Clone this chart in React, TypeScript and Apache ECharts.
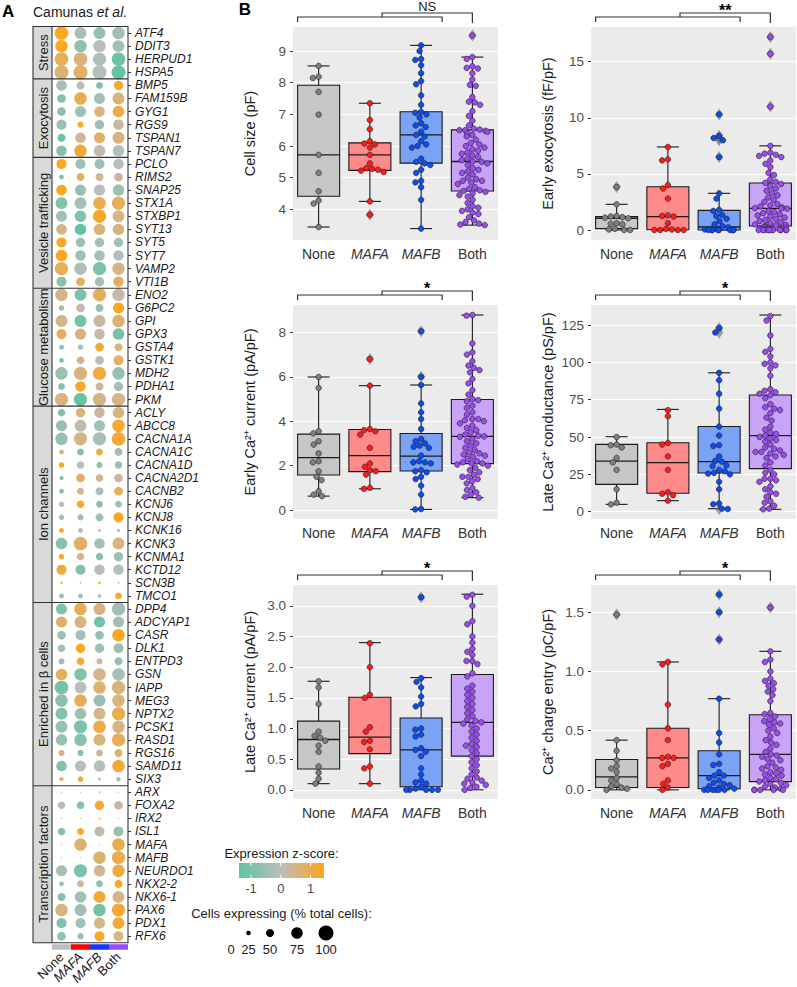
import React, { useEffect, useRef } from 'react';
import * as echarts from 'echarts';

const FONT = "'Liberation Sans', Arial, sans-serif";
const CONDITIONS = ['None', 'MAFA', 'MAFB', 'Both'];
const ITALIC = new Set(['MAFA', 'MAFB']);

// ---------- Panel A data ----------
const GROUP_NAMES = ['Stress', 'Exocytosis', 'Vesicle trafficking', 'Glucose metabolism', 'Ion channels', 'Enriched in β cells', 'Transcription factors'];
const GROUP_GENES = [
  ['ATF4', 'DDIT3', 'HERPUD1', 'HSPA5'],
  ['BMP5', 'FAM159B', 'GYG1', 'RGS9', 'TSPAN1', 'TSPAN7'],
  ['PCLO', 'RIMS2', 'SNAP25', 'STX1A', 'STXBP1', 'SYT13', 'SYT5', 'SYT7', 'VAMP2', 'VTI1B'],
  ['ENO2', 'G6PC2', 'GPI', 'GPX3', 'GSTA4', 'GSTK1', 'MDH2', 'PDHA1', 'PKM'],
  ['ACLY', 'ABCC8', 'CACNA1A', 'CACNA1C', 'CACNA1D', 'CACNA2D1', 'CACNB2', 'KCNJ6', 'KCNJ8', 'KCNK16', 'KCNK3', 'KCNMA1', 'KCTD12', 'SCN3B', 'TMCO1'],
  ['DPP4', 'ADCYAP1', 'CASR', 'DLK1', 'ENTPD3', 'GSN', 'IAPP', 'MEG3', 'NPTX2', 'PCSK1', 'RASD1', 'RGS16', 'SAMD11', 'SIX3'],
  ['ARX', 'FOXA2', 'IRX2', 'ISL1', 'MAFA', 'MAFB', 'NEURDO1', 'NKX2-2', 'NKX6-1', 'PAX6', 'PDX1', 'RFX6'],
];
const GENES = GROUP_GENES.flat();

// z-scores: None, MAFA, MAFB, Both
const Z_SCORES = [
  [1.4, -0.3, -0.6, -0.4], [1.4, -0.7, 0, -0.4], [0.9, 0.6, -0.2, -1.2], [0.7, 0.8, -0.1, -1.3],
  [-0.3, 0.2, -0.8, 1.3], [-0.9, 1.0, -0.4, 0.6], [-0.7, -0.4, 0.6, 1.1], [-0.5, 1.4, -0.5, 0.3], [-1.2, 0.4, 0.8, 0.6], [-0.8, 1.2, 0.2, -0.2],
  [1.4, -0.5, -0.5, -0.1], [-0.8, 0.8, 0.4, 0.3], [1.4, -0.5, 0, -0.5], [-0.9, -0.3, 1.0, 0.9], [-0.4, -0.9, 1.3, 0.5], [0.5, -1.4, 0.6, 0.6], [1.4, -0.5, -0.4, -0.4], [1.4, -0.4, -0.3, -0.1], [0.9, -0.2, -1.0, 0.5], [-0.8, 0.9, -0.4, 0.8],
  [0.5, -1.0, 0.9, 0.2], [-0.4, 0.1, -0.6, 1.4], [0.5, -1.1, 0.3, 0.7], [0.8, 0.6, 0.2, -1.1], [-0.6, -0.3, 1.2, 0.6], [-0.8, 0.5, -0.1, 0.8], [-0.5, 0.6, 1.1, -0.6], [-0.8, 1.3, 0.3, -0.3], [0.6, -1.3, 0.5, 0.5],
  [-0.9, 0.6, 0.3, 0.6], [-0.6, 0.1, -0.4, 1.3], [-0.6, 0.5, -0.3, 1.2], [0.6, -0.9, 1.1, -0.4], [1.4, 0, -0.6, -0.5], [-0.8, 0.8, 0.5, 0.3], [-0.8, 0.5, -0.3, 0.9], [0, 1.3, -0.7, -0.4], [-0.4, -0.4, -0.5, 1.4], [1.3, 0, -0.1, -0.6], [-0.8, 0.8, -0.4, 0.6], [1.3, 0.4, -0.8, -0.5], [1.2, -0.9, 0, -0.1], [1.2, -0.4, 1.2, -0.5], [-0.6, -0.4, 0, 1.4],
  [-0.9, 0.9, 0.6, -0.4], [0.8, 0.6, -1.1, -0.4], [-0.4, -0.4, -0.6, 1.4], [-0.4, 1.4, -0.5, -0.4], [-0.5, 1.3, 0.3, -0.6], [0.9, -0.9, 0.5, -0.3], [-1.1, 0, 0.7, 0.6], [-0.7, 0.9, -0.6, 0.6], [-0.9, -0.5, 0.5, 1.0], [-0.5, -1.0, 1.1, 0.5], [-0.5, -0.8, 0.6, 0.9], [0.5, -0.9, 0.3, 0.8], [-0.9, -0.1, -0.1, 1.2], [0.6, 1.2, -0.6, -0.4],
  [-0.3, -0.3, 1.3, 0.3], [0, -0.9, 1.2, 0.3], [0, 0, 1.3, 0], [-0.8, 1.4, 0.2, -0.5], [0, 0.7, 0, 1.0], [0, 0, 0.7, 1.0], [-0.3, -1.0, 0.4, 1.1], [-0.6, 0.4, -0.6, 1.4], [-0.9, -0.4, 1.2, 0.5], [0.6, -0.4, -1.1, 1.2], [-0.9, -0.4, 0.5, 1.2], [-0.6, -0.6, 1.3, 0.5],
];
// % cells expressing
const PCT_CELLS = [
  [90, 78, 78, 82], [82, 82, 82, 78], [90, 90, 87, 90], [93, 93, 93, 93],
  [68, 50, 42, 60], [55, 82, 72, 78], [55, 72, 68, 75], [65, 37, 60, 68], [50, 68, 72, 78], [68, 82, 75, 75],
  [65, 65, 65, 68], [27, 50, 50, 55], [68, 72, 72, 75], [78, 78, 82, 87], [72, 75, 87, 78], [68, 75, 75, 75], [65, 60, 60, 60], [75, 68, 68, 68], [87, 82, 87, 82], [65, 55, 60, 68],
  [82, 78, 87, 82], [32, 55, 50, 72], [78, 78, 78, 82], [65, 72, 68, 75], [28, 32, 55, 50], [28, 46, 55, 65], [82, 87, 87, 82], [42, 68, 50, 60], [87, 87, 87, 87],
  [46, 60, 68, 75], [72, 78, 72, 82], [82, 87, 87, 90], [28, 42, 42, 50], [32, 46, 37, 46], [24, 55, 46, 55], [28, 42, 50, 55], [32, 46, 42, 42], [32, 37, 50, 65], [28, 28, 14, 14], [75, 90, 68, 78], [32, 46, 46, 60], [65, 65, 68, 68], [10, 5, 12, 5], [28, 28, 20, 42],
  [72, 82, 78, 87], [72, 78, 72, 72], [55, 65, 55, 82], [46, 60, 60, 65], [37, 46, 37, 50], [75, 82, 82, 82], [90, 78, 82, 87], [82, 82, 78, 82], [78, 75, 78, 87], [78, 87, 82, 82], [75, 82, 78, 87], [37, 37, 42, 50], [68, 72, 75, 82], [24, 32, 12, 24],
  [2, 2, 5, 2], [46, 46, 60, 55], [2, 2, 5, 2], [46, 42, 65, 65], [2, 82, 2, 82], [2, 2, 82, 87], [72, 87, 75, 82], [27, 42, 42, 50], [50, 75, 78, 78], [82, 78, 82, 87], [65, 65, 72, 78], [55, 37, 65, 65],
];
const Z_LEGEND_TICKS = [-1, 0, 1];
const SIZE_LEGEND_VALUES = [0, 25, 50, 75, 100];
const Z_MIN = -1.4;
const Z_MAX = 1.45;

// ---------- Panel B data ----------
// box stats: [lower whisker, Q1, median, Q3, upper whisker] for None, MAFA, MAFB, Both
const CELL_SIZE_BOX = [[3.44, 4.41, 5.72, 7.92, 8.53], [4.25, 5.23, 5.72, 6.10, 7.35], [3.39, 5.46, 6.35, 7.08, 9.18], [3.5, 4.58, 5.51, 6.51, 8.81]];
const CELL_SIZE_POINTS = [
  [8.53, 8.19, 8.15, 7.71, 6.99, 5.72, 5.15, 4.57, 4.28, 4.18, 3.44],
  [7.35, 6.82, 6.53, 6.15, 6.08, 6.05, 5.95, 5.72, 5.45, 5.30, 5.28, 5.25, 5.22, 5.18, 4.25, 3.83],
  [9.18, 9.0, 8.75, 8.72, 8.55, 8.3, 8.05, 7.95, 7.6, 7.3, 7.08, 7.05, 7.0, 6.9, 6.72, 6.65, 6.6, 6.45, 6.35, 6.3, 6.15, 6.05, 6.0, 5.95, 5.6, 5.5, 5.45, 5.4, 5.25, 5.15, 4.9, 4.85, 4.7, 4.3, 3.39],
  [9.49, 8.81, 8.75, 8.52, 8.47, 8.45, 8.3, 8.1, 7.93, 7.9, 7.55, 7.4, 7.38, 7.3, 7.1, 6.95, 6.8, 6.65, 6.55, 6.52, 6.5, 6.5, 6.48, 6.45, 6.4, 6.35, 6.3, 6.2, 6.1, 6.05, 6.0, 5.95, 5.9, 5.85, 5.8, 5.75, 5.7, 5.65, 5.6, 5.55, 5.51, 5.5, 5.45, 5.4, 5.3, 5.25, 5.2, 5.15, 5.1, 5.0, 4.95, 4.9, 4.9, 4.85, 4.8, 4.7, 4.65, 4.6, 4.58, 4.55, 4.5, 4.45, 4.4, 4.3, 4.2, 4.1, 4.05, 4.0, 3.95, 3.9, 3.85, 3.75, 3.65, 3.6, 3.55, 3.52, 3.5],
];
const EXO_BOX = [[0, 0.12, 1.05, 1.19, 2.29], [0, 0.03, 1.19, 3.86, 7.4], [0, 0, 0.27, 1.75, 3.27], [0, 0.36, 1.93, 4.19, 7.5]];
const EXO_POINTS = [
  [3.83, 2.29, 1.25, 1.2, 1.15, 1.1, 1.05, 0.6, 0.55, 0.5, 0.1, 0.05, 0.0, 0.0],
  [7.4, 6.3, 6.2, 4.0, 3.7, 2.8, 1.3, 1.25, 1.2, 0.6, 0.1, 0.05, 0.0, 0.0, 0.0, 0.0],
  [10.3, 8.4, 8.2, 8.0, 6.5, 3.27, 2.8, 1.8, 1.7, 1.35, 1.25, 1.0, 0.8, 0.5, 0.35, 0.25, 0.1, 0.05, 0.05, 0, 0, 0, 0, 0, 0, 0, 0, 0],
  [17.2, 15.7, 11.0, 7.5, 6.9, 6.8, 6.7, 6.6, 6.5, 6.2, 5.9, 5.6, 5.1, 4.9, 4.5, 4.3, 4.2, 4.1, 3.9, 3.7, 3.5, 3.3, 3.1, 2.9, 2.7, 2.5, 2.3, 2.2, 2.1, 2.0, 1.95, 1.93, 1.9, 1.7, 1.6, 1.5, 1.4, 1.3, 1.2, 1.1, 1.0, 0.9, 0.8, 0.7, 0.6, 0.5, 0.45, 0.4, 0.35, 0.3, 0.25, 0.2, 0.15, 0.1, 0.1, 0.05, 0.05, 0, 0, 0, 0, 0, 0, 0, 0, 0, 0, 0],
];
const EARLY_CA_BOX = [[0.63, 1.58, 2.36, 3.42, 5.99], [0.96, 1.73, 2.45, 3.63, 5.6], [0.03, 1.76, 2.43, 3.45, 5.63], [0.56, 2.09, 3.32, 4.98, 8.78]];
const EARLY_CA_POINTS = [
  [5.99, 5.5, 3.55, 3.45, 3.1, 2.95, 2.55, 2.2, 2.15, 1.75, 1.5, 1.35, 0.85, 0.7, 0.63],
  [6.8, 5.6, 3.65, 3.6, 3.55, 3.4, 2.8, 2.1, 1.95, 1.8, 1.75, 1.6, 1.0, 0.96],
  [8.05, 6.0, 5.63, 4.8, 4.4, 4.1, 3.65, 3.2, 3.1, 3.0, 2.9, 2.85, 2.8, 2.45, 2.2, 2.15, 2.15, 2.1, 1.8, 1.75, 1.7, 1.5, 1.4, 1.1, 0.7, 0.05, 0.03],
  [8.78, 8.75, 7.5, 7.1, 7.0, 6.7, 6.5, 6.4, 6.3, 6.2, 5.9, 5.7, 5.4, 5.2, 5.0, 4.95, 4.9, 4.7, 4.6, 4.4, 4.3, 4.1, 4.1, 4.05, 4.0, 3.9, 3.8, 3.7, 3.6, 3.5, 3.4, 3.35, 3.32, 3.3, 3.2, 3.1, 3.0, 2.9, 2.8, 2.7, 2.6, 2.55, 2.5, 2.45, 2.4, 2.3, 2.2, 2.15, 2.1, 2.1, 2.05, 2.0, 1.9, 1.8, 1.7, 1.6, 1.5, 1.5, 1.4, 1.3, 1.2, 1.0, 0.9, 0.8, 0.7, 0.6, 0.56],
];
const LATE_G_BOX = [[4.9, 18.3, 33.9, 45.1, 50.2], [7.4, 12.3, 32.8, 46.2, 68.5], [2, 25.9, 33.5, 57, 93], [1.6, 28.8, 50.9, 78.1, 131.7]];
const LATE_G_POINTS = [
  [50, 45, 44.5, 43, 36, 33, 28, 15, 6, 4.9],
  [68, 64, 46, 45, 37, 28, 13, 12, 11, 7.4],
  [123, 120, 93, 88, 79, 69, 57, 51, 44.5, 44, 37, 34, 33.5, 31, 30.5, 28, 27, 26, 25.5, 25, 20, 15, 5.5, 5, 2, 1.8],
  [131, 128, 118, 109, 107, 104, 100, 99, 98, 96, 91, 82, 81, 80, 79, 78, 76, 72, 70, 69, 68, 66, 63, 61, 57, 55, 53, 52, 51, 50, 49, 48, 47, 45, 43, 42, 41, 40, 40, 39, 38, 37, 36, 33, 31, 28, 26, 25, 22, 22, 21, 20, 17, 15, 13, 12, 10, 7, 6, 4, 2, 1.6],
];
const LATE_CA_BOX = [[0.1, 0.34, 0.82, 1.12, 1.77], [0.1, 0.59, 0.86, 1.51, 2.4], [0, 0.05, 0.65, 1.17, 1.83], [0, 0.55, 1.1, 1.88, 3.19]];
const LATE_CA_POINTS = [
  [1.77, 1.67, 1.4, 0.95, 0.88, 0.85, 0.80, 0.72, 0.62, 0.38, 0.28, 0.18, 0.1],
  [2.39, 2.0, 1.55, 1.5, 1.02, 0.95, 0.8, 0.78, 0.66, 0.38, 0.35, 0.1],
  [3.14, 1.82, 1.76, 1.67, 1.52, 1.40, 1.36, 1.0, 0.98, 0.9, 0.87, 0.68, 0.65, 0.62, 0.55, 0.35, 0.25, 0.15, 0.12, 0.1, 0.05, 0.02, 0.0, 0.0, 0.0, 0.0, 0.0],
  [3.18, 3.15, 3.0, 2.75, 2.7, 2.5, 2.4, 2.3, 2.25, 2.2, 2.1, 2.1, 2.05, 1.9, 1.85, 1.7, 1.65, 1.6, 1.55, 1.5, 1.45, 1.4, 1.35, 1.3, 1.25, 1.2, 1.15, 1.12, 1.1, 1.08, 1.05, 1.0, 0.95, 0.9, 0.85, 0.8, 0.75, 0.72, 0.7, 0.65, 0.6, 0.55, 0.5, 0.45, 0.4, 0.35, 0.3, 0.25, 0.2, 0.18, 0.15, 0.12, 0.1, 0.08, 0.05, 0.03, 0.0],
];
const CHARGE_BOX = [[0, 0.02, 0.11, 0.256, 0.42], [0, 0.02, 0.27, 0.52, 1.08], [0, 0.01, 0.12, 0.33, 0.77], [0, 0.07, 0.30, 0.635, 1.17]];
const CHARGE_POINTS = [
  [1.48, 0.42, 0.33, 0.25, 0.2, 0.18, 0.15, 0.1, 0.08, 0.05, 0.03, 0.02, 0.01, 0.0],
  [1.08, 1.06, 0.72, 0.52, 0.42, 0.28, 0.27, 0.27, 0.22, 0.2, 0.08, 0.05, 0.02, 0.0],
  [1.65, 1.5, 1.27, 0.77, 0.48, 0.4, 0.3, 0.22, 0.21, 0.15, 0.12, 0.12, 0.1, 0.08, 0.06, 0.05, 0.04, 0.03, 0.02, 0.01, 0, 0, 0, 0, 0, 0],
  [1.54, 1.17, 1.10, 1.08, 1.0, 0.94, 0.92, 0.9, 0.88, 0.85, 0.83, 0.8, 0.75, 0.65, 0.64, 0.62, 0.6, 0.58, 0.57, 0.56, 0.55, 0.52, 0.5, 0.48, 0.45, 0.42, 0.4, 0.38, 0.35, 0.32, 0.3, 0.29, 0.28, 0.26, 0.25, 0.23, 0.2, 0.19, 0.18, 0.17, 0.15, 0.14, 0.13, 0.12, 0.1, 0.09, 0.08, 0.07, 0.06, 0.05, 0.04, 0.03, 0.02, 0.01, 0, 0, 0, 0, 0],
];
const CELL_SIZE_TICKS = [4, 5, 6, 7, 8, 9];
const EXO_TICKS = [0, 5, 10, 15];
const EARLY_CA_TICKS = [0, 2, 4, 6, 8];
const LATE_G_TICKS = [0, 25, 50, 75, 100, 125];
const LATE_CA_TICKS = [0, 0.5, 1.0, 1.5, 2.0, 2.5, 3.0];
const CHARGE_TICKS = [0, 0.5, 1.0, 1.5];
const SIGNIFICANCE = ['NS', '**', '*', '*', '*', '*'];

// ---------- styling / layout ----------
const BOX_FILLS = ['#C6C6C6', '#FF8A8A', '#7AA3F6', '#C7A4F7'];
const POINT_FILLS = ['#7F7F7F', '#FF1A1A', '#0B4CF5', '#9B4BF2'];
const STRIP_COLORS = ['#BFBFBF', '#FF0000', '#1538FF', '#9A4DFF'];
const TEAL = '#62C3A2';
const MIDGRAY = '#BDBDBD';
const ORANGE = '#FFA51A';
const DOT = { left: 52, top: 26.5, width: 76, height: 921.5 };
const PANELS = [
  { name: 'Cell size (pF)', box: CELL_SIZE_BOX, pts: CELL_SIZE_POINTS, ticks: CELL_SIZE_TICKS, min: 3.03, max: 9.76, dec: 0, left: 293, top: 27, height: 213 },
  { name: 'Early exocytosis (fF/pF)', box: EXO_BOX, pts: EXO_POINTS, ticks: EXO_TICKS, min: -0.89, max: 18.09, dec: 0, left: 591, top: 27, height: 213 },
  { name: 'Early Ca²⁺ current (pA/pF)', box: EARLY_CA_BOX, pts: EARLY_CA_POINTS, ticks: EARLY_CA_TICKS, min: -0.4, max: 9.23, dec: 0, left: 293, top: 305, height: 214 },
  { name: 'Late Ca²⁺ conductance (pS/pF)', box: LATE_G_BOX, pts: LATE_G_POINTS, ticks: LATE_G_TICKS, min: -4.9, max: 138.4, dec: 0, left: 591, top: 305, height: 214 },
  { name: 'Late Ca²⁺ current (pA/pF)', box: LATE_CA_BOX, pts: LATE_CA_POINTS, ticks: LATE_CA_TICKS, min: -0.15, max: 3.34, dec: 1, left: 293, top: 585, height: 214 },
  { name: 'Ca²⁺ charge entry (pC/pF)', box: CHARGE_BOX, pts: CHARGE_POINTS, ticks: CHARGE_TICKS, min: -0.077, max: 1.73, dec: 1, left: 591, top: 585, height: 214 },
];
const PANEL_W = 205;

const dotSize = (pct: number) => 1 + 0.14 * pct;
const catFormatter = (v: string) => (ITALIC.has(v) ? `{i|${v}}` : v);

function buildOption(): any {
  const grid: any[] = [{ left: DOT.left, top: DOT.top, width: DOT.width, height: DOT.height }];
  const xAxis: any[] = [{
    type: 'category', gridIndex: 0, data: CONDITIONS,
    axisLine: { show: false }, axisTick: { show: false }, splitLine: { show: false },
    axisLabel: {
      rotate: 45, interval: 0, margin: 12, fontSize: 13, color: '#1a1a1a', fontFamily: FONT,
      formatter: catFormatter,
      rich: { i: { fontStyle: 'italic', fontSize: 13, color: '#1a1a1a', fontFamily: FONT } },
    },
  }];
  const yAxis: any[] = [{
    type: 'category', gridIndex: 0, data: GENES, inverse: true, position: 'right',
    axisLine: { show: false },
    axisTick: { show: true, alignWithLabel: true, length: 3, lineStyle: { color: '#333' } },
    axisLabel: { interval: 0, fontSize: 12, fontStyle: 'italic', color: '#1a1a1a', margin: 7, fontFamily: FONT },
    splitLine: { show: false },
  }];
  const dotData: any[] = [];
  GENES.forEach((g, i) => {
    for (let j = 0; j < 4; j++) dotData.push([j, i, Z_SCORES[i][j], PCT_CELLS[i][j]]);
  });
  const series: any[] = [{
    type: 'scatter', xAxisIndex: 0, yAxisIndex: 0, data: dotData,
    symbolSize: (v: number[]) => dotSize(v[3]),
    itemStyle: { opacity: 1 }, z: 3,
  }];

  PANELS.forEach((p, k) => {
    const gi = k + 1;
    grid.push({ left: p.left, top: p.top, width: PANEL_W, height: p.height, show: true, backgroundColor: '#EBEBEB', borderWidth: 0 });
    xAxis.push({
      type: 'category', gridIndex: gi, data: CONDITIONS,
      jitter: 34, jitterOverlap: false, jitterMargin: 0.3,
      axisLine: { show: false }, axisTick: { show: false }, splitLine: { show: false },
      axisLabel: {
        margin: 7, fontSize: 14, color: '#333', fontFamily: FONT, interval: 0,
        formatter: catFormatter,
        rich: { i: { fontStyle: 'italic', fontSize: 14, color: '#333', fontFamily: FONT } },
      },
    });
    yAxis.push({
      type: 'value', gridIndex: gi, min: p.min, max: p.max,
      name: p.name, nameLocation: 'middle', nameGap: 36,
      nameTextStyle: { fontSize: 14.5, color: '#1a1a1a', fontFamily: FONT },
      axisLine: { show: false },
      axisTick: { show: true, length: 3, lineStyle: { color: '#333' }, customValues: p.ticks },
      axisLabel: { customValues: p.ticks, fontSize: 13.5, color: '#4D4D4D', margin: 7, fontFamily: FONT, formatter: (v: number) => v.toFixed(p.dec) },
      splitLine: { show: true, lineStyle: { color: '#FFFFFF', width: 1.2 } },
    });
    // boxes (errorbar + box + median)
    series.push({
      type: 'custom', xAxisIndex: gi, yAxisIndex: gi, z: 2,
      data: p.box.map((b, j) => [j, ...b]),
      encode: { x: 0, y: [1, 2, 3, 4, 5] },
      renderItem: (params: any, api: any) => {
        const x = api.value(0);
        const pMin = api.coord([x, api.value(1)]);
        const pQ1 = api.coord([x, api.value(2)]);
        const pMed = api.coord([x, api.value(3)]);
        const pQ3 = api.coord([x, api.value(4)]);
        const pMax = api.coord([x, api.value(5)]);
        const band = api.size([1, 0])[0];
        const bw = band * 0.82;
        const cw = band * 0.43;
        const cx = pMed[0];
        const line = { stroke: '#1a1a1a', lineWidth: 1.1 };
        return {
          type: 'group',
          children: [
            { type: 'line', shape: { x1: cx, y1: pMax[1], x2: cx, y2: pMin[1] }, style: line },
            { type: 'line', shape: { x1: cx - cw / 2, y1: pMax[1], x2: cx + cw / 2, y2: pMax[1] }, style: line },
            { type: 'line', shape: { x1: cx - cw / 2, y1: pMin[1], x2: cx + cw / 2, y2: pMin[1] }, style: line },
            { type: 'rect', shape: { x: cx - bw / 2, y: pQ3[1], width: bw, height: pQ1[1] - pQ3[1] }, style: { fill: BOX_FILLS[x], stroke: '#1a1a1a', lineWidth: 1.1 } },
            { type: 'line', shape: { x1: cx - bw / 2, y1: pMed[1], x2: cx + bw / 2, y2: pMed[1] }, style: { stroke: '#1a1a1a', lineWidth: 1.3 } },
          ],
        };
      },
    });
    // outliers (diamonds)
    const outl: any[] = [];
    p.pts.forEach((arr, j) => arr.forEach((v) => {
      if (v > p.box[j][4] + 1e-9 || v < p.box[j][0] - 1e-9) outl.push([j, v]);
    }));
    series.push({
      type: 'custom', xAxisIndex: gi, yAxisIndex: gi, z: 3,
      data: outl, encode: { x: 0, y: 1 },
      renderItem: (params: any, api: any) => {
        const c = api.coord([api.value(0), api.value(1)]);
        return {
          type: 'polygon',
          shape: { points: [[c[0], c[1] - 6], [c[0] + 4.2, c[1]], [c[0], c[1] + 6], [c[0] - 4.2, c[1]]] },
          style: { fill: 'rgba(95,95,95,0.55)' },
        };
      },
    });
    // points
    const pts: any[] = [];
    p.pts.forEach((arr, j) => arr.forEach((v) => pts.push([j, v])));
    series.push({
      type: 'scatter', xAxisIndex: gi, yAxisIndex: gi, z: 4, data: pts,
      symbolSize: 5.6,
      itemStyle: {
        color: (prm: any) => POINT_FILLS[prm.data[0]],
        borderColor: '#222', borderWidth: 0.6, opacity: 1,
      },
    });
  });

  return {
    animation: false,
    backgroundColor: '#FFFFFF',
    textStyle: { fontFamily: FONT },
    grid, xAxis, yAxis, series,
    visualMap: [{
      type: 'continuous', show: false, seriesIndex: 0, dimension: 2,
      min: Z_MIN, max: Z_MAX, inRange: { color: [TEAL, MIDGRAY, ORANGE] },
    }],
  };
}

function txt(x: number, y: number, text: string, extra: any = {}, styleExtra: any = {}) {
  return {
    type: 'text', x, y, z: 50, ...extra,
    style: { text, fontSize: 13, fontFamily: FONT, fill: '#1a1a1a', align: 'center', verticalAlign: 'middle', ...styleExtra },
  };
}

function buildGraphics(chart: any): any[] {
  const g: any[] = [];
  // Titles
  g.push(txt(2, 11, 'A', {}, { fontSize: 17, fontWeight: 'bold', align: 'left', fill: '#000' }));
  g.push(txt(33, 12, 'Camunas {i|et al.}', {}, { fontSize: 14, align: 'left', rich: { i: { fontStyle: 'italic', fontSize: 14, fontFamily: FONT, fill: '#1a1a1a' } } }));
  g.push(txt(245, 9, 'B', {}, { fontSize: 17, fontWeight: 'bold', align: 'center', fill: '#000' }));

  // Panel A frame & strip
  const yOf = (gene: string) => chart.convertToPixel({ yAxisIndex: 0 }, gene);
  const y0 = yOf(GENES[0]);
  const yN = yOf(GENES[GENES.length - 1]);
  const rh = (yN - y0) / (GENES.length - 1);
  const top = y0 - rh / 2;
  const bottom = yN + rh / 2;
  const stripL = 33;
  const plotL = DOT.left;
  const plotR = DOT.left + DOT.width;
  g.push({ type: 'rect', z: -10, shape: { x: stripL, y: top, width: plotL - stripL, height: bottom - top }, style: { fill: '#D9D9D9' } });
  let idx = 0;
  GROUP_NAMES.forEach((name, gi) => {
    const n = GROUP_GENES[gi].length;
    const gTop = top + idx * rh;
    const gBot = top + (idx + n) * rh;
    g.push(txt((stripL + plotL) / 2 + 0.5, (gTop + gBot) / 2, name, { rotation: Math.PI / 2 }, { fontSize: 13 }));
    if (gi > 0) g.push({ type: 'line', z: 60, shape: { x1: stripL, y1: gTop, x2: plotR, y2: gTop }, style: { stroke: '#333', lineWidth: 1.1 } });
    idx += n;
  });
  g.push({ type: 'rect', z: 60, shape: { x: stripL, y: top, width: plotR - stripL, height: bottom - top }, style: { fill: 'none', stroke: '#333', lineWidth: 1.1 } });
  g.push({ type: 'line', z: 60, shape: { x1: plotL, y1: top, x2: plotL, y2: bottom }, style: { stroke: '#333', lineWidth: 1.1 } });
  // colour strip below dot plot
  const colW = DOT.width / 4;
  CONDITIONS.forEach((c, j) => {
    const cx = chart.convertToPixel({ xAxisIndex: 0 }, c);
    g.push({ type: 'rect', z: 5, shape: { x: cx - colW / 2, y: bottom + 1.5, width: colW, height: 5.5 }, style: { fill: STRIP_COLORS[j] } });
  });

  // Brackets and significance
  PANELS.forEach((p, k) => {
    const ax = { xAxisIndex: k + 1 };
    const cN = chart.convertToPixel(ax, 'None');
    const cA = chart.convertToPixel(ax, 'MAFA');
    const cB = chart.convertToPixel(ax, 'MAFB');
    const cBoth = chart.convertToPixel(ax, 'Both');
    const band = cA - cN;
    const lL = cN - 0.41 * band;
    const lR = cB + 0.41 * band;
    const uL = lL + 0.584 * (lR - lL);
    const T = p.top;
    const st = { stroke: '#333', lineWidth: 1.2, fill: 'none' };
    g.push({ type: 'polyline', z: 50, shape: { points: [[lL, T - 5], [lL, T - 10], [lR, T - 10], [lR, T - 5]] }, style: st });
    g.push({ type: 'polyline', z: 50, shape: { points: [[uL, T - 10], [uL, T - 14], [cBoth, T - 14], [cBoth, T - 4]] }, style: st });
    const sig = SIGNIFICANCE[k];
    if (sig === 'NS') g.push(txt((uL + cBoth) / 2, T - 21, sig, {}, { fontSize: 13, fill: '#1a1a1a' }));
    else g.push(txt((uL + cBoth) / 2, T - 17, sig, {}, { fontSize: 16, fontWeight: 'bold', fill: '#000' }));
  });

  // Colour legend
  const barL = 239, barW = 85, barT = 863, barH = 15;
  g.push(txt(281.5, 853, 'Expression z-score:', {}, { fontSize: 13 }));
  g.push({
    type: 'rect', z: 40, shape: { x: barL, y: barT, width: barW, height: barH },
    style: { fill: new echarts.graphic.LinearGradient(0, 0, 1, 0, [{ offset: 0, color: TEAL }, { offset: 0.5, color: MIDGRAY }, { offset: 1, color: ORANGE }]) },
  });
  Z_LEGEND_TICKS.forEach((t) => {
    const x = barL + ((t - Z_MIN) / (Z_MAX - Z_MIN)) * barW;
    g.push({ type: 'line', z: 41, shape: { x1: x, y1: barT, x2: x, y2: barT + 3 }, style: { stroke: '#fff', lineWidth: 1 } });
    g.push({ type: 'line', z: 41, shape: { x1: x, y1: barT + barH - 3, x2: x, y2: barT + barH }, style: { stroke: '#fff', lineWidth: 1 } });
    g.push(txt(x, 888, String(t), {}, { fontSize: 13, fill: '#4D4D4D' }));
  });

  // Size legend
  g.push(txt(281.5, 913, 'Cells expressing (% total cells):', {}, { fontSize: 13 }));
  const sizeX = [231, 248.5, 270, 297, 326];
  SIZE_LEGEND_VALUES.forEach((v, i) => {
    g.push({ type: 'circle', z: 40, shape: { cx: sizeX[i], cy: 933, r: dotSize(v) / 2 }, style: { fill: '#000' } });
    g.push(txt(sizeX[i], 949, String(v), {}, { fontSize: 13, fill: '#1a1a1a' }));
  });
  return g;
}

export default function App() {
  const ref = useRef<HTMLDivElement>(null);
  useEffect(() => {
    if (!ref.current) return;
    const chart = echarts.init(ref.current, null, { renderer: 'svg' });
    chart.setOption(buildOption());
    chart.setOption({ graphic: buildGraphics(chart) });
    return () => chart.dispose();
  }, []);
  return <div ref={ref} style={{ position: 'fixed', left: 0, top: 0, width: 797, height: 987 }} />;
}
